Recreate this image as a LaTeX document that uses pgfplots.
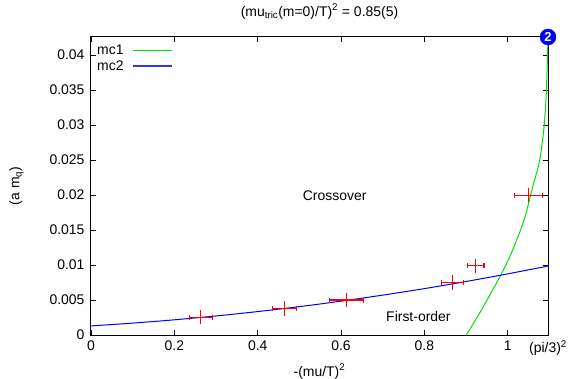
\documentclass[border=0pt]{standalone}
\usepackage{fontspec}
\setmainfont{Liberation Sans}
\usepackage{pgfplots}
\pgfplotsset{compat=1.18}
\definecolor{gpgreen}{RGB}{0,225,0}
\definecolor{gpred}{RGB}{255,0,0}
\newcommand{\fs}{\fontsize{14}{16}\selectfont}
\begin{document}
\begin{tikzpicture}[font=\fs]
\begin{axis}[name=ax, scale only axis, width=457bp, height=298bp,
  xmin=0, xmax=1.0966, ymin=0, ymax=0.0426,
  clip=false,
  scaled y ticks=false, scaled x ticks=false,
  axis line style={line width=1bp},
  tick style={black, line width=0.8bp}, major tick length=5bp,
  tick align=inside,
  xtick={0,0.2,0.4,0.6,0.8,1,1.0966},
  xticklabels={0,0.2,0.4,0.6,0.8,1,(pi/3)\textsuperscript{2}},
  ytick={0,0.005,0.01,0.015,0.02,0.025,0.03,0.035,0.04},
  yticklabels={0,0.005,0.01,0.015,0.02,0.025,0.03,0.035,0.04},
  tick label style={font=\fs},
  xticklabel style={yshift=-2bp},
  yticklabel style={xshift=-3bp},
  xlabel={-(mu/T)\textsuperscript{2}},
  ylabel={(a m\textsubscript{q})},
  title={(mu\textsubscript{tric}(m=0)/T)\textsuperscript{2} = 0.85(5)},
  label style={font=\fs},
  x label style={at={(axis description cs:0.5,0)}, anchor=base, yshift=-41bp},
  y label style={at={(axis description cs:-0.163,0.5)}, anchor=center},
  title style={font=\fs, at={(axis description cs:0.5,1)}, anchor=base, yshift=15bp},
  legend style={draw=none, fill=none, at={(0,1)}, anchor=north west,
    inner xsep=6bp, inner ysep=8bp, row sep=4bp, column sep=9bp,
    nodes={inner sep=0pt}, font=\fs},
  legend cell align=left,
  legend plot pos=right,
  myerrx/.style={draw=gpred, line width=1.2bp, mark=|, mark size=2.5bp, mark options={draw=gpred, line width=1.2bp}, forget plot},
  myerry/.style={draw=gpred, line width=1.2bp, no markers, forget plot},
]
\addlegendimage{legend image code/.code={\draw[gpgreen, line width=1bp] (0bp,0bp) -- (39bp,0bp);}}
\addlegendentry{mc1}
\addlegendimage{legend image code/.code={\draw[blue!80, line width=1.2bp] (0bp,0bp) -- (39bp,0bp);}}
\addlegendentry{mc2}
\addplot[gpgreen, line width=1bp, smooth, tension=0.5, forget plot] coordinates {
 (0.9005,0) (0.94,0.0039) (0.9832,0.00857) (1.01,0.0119) (1.0391,0.01643)
 (1.06,0.0212) (1.0767,0.025) (1.0871,0.02976) (1.0928,0.035) (1.0966,0.0426)};
\addplot[blue, line width=1bp, smooth, forget plot] coordinates {
 (0,0.0013) (0.1,0.0017) (0.2,0.00217) (0.3,0.00272) (0.4,0.00335) (0.5,0.00405)
 (0.6,0.00484) (0.7,0.0057) (0.8,0.00663) (0.9,0.00765) (1.0,0.00874) (1.0966,0.00986)};
% error bars: point (x,y) with x and y errors
\addplot[myerrx] coordinates {(0.2354,0.00253) (0.2906,0.00253)};
\addplot[myerry] coordinates {(0.263,0.00153) (0.263,0.00353)};
\addplot[myerrx] coordinates {(0.4348,0.00381) (0.4924,0.00381)};
\addplot[myerry] coordinates {(0.4636,0.00274) (0.4636,0.00488)};
\addplot[myerrx] coordinates {(0.572,0.0050) (0.654,0.0050)};
\addplot[myerry] coordinates {(0.613,0.00395) (0.613,0.00605)};
\addplot[myerrx] coordinates {(0.8401,0.00753) (0.8929,0.00753)};
\addplot[myerry] coordinates {(0.8665,0.00646) (0.8665,0.0086)};
\addplot[myerrx] coordinates {(0.903,0.0099) (0.943,0.0099)};
\addplot[myerry] coordinates {(0.923,0.0089) (0.923,0.0109)};
\addplot[myerrx] coordinates {(1.017,0.01996) (1.083,0.01996)};
\addplot[myerry] coordinates {(1.050,0.01896) (1.050,0.02096)};
\addplot[only marks, mark=*, mark size=8bp, forget plot,
  mark options={fill=blue, draw=blue},
  nodes near coords={\pgfsetfillcolor{white}\textbf{2}},
  every node near coord/.style={anchor=center, font=\fontsize{13}{13}\selectfont\bfseries}]
  coordinates {(1.0966,0.0426)};
\node[anchor=west] at (axis cs:0.5,0.0199) {Crossover};
\node[anchor=west] at (axis cs:0.7,0.0026) {First-order};
\end{axis}
\pgfresetboundingbox
\path[use as bounding box] ([xshift=-91bp,yshift=-44bp]ax.south west) rectangle ([xshift=21bp,yshift=37bp]ax.north east);
\end{tikzpicture}
\end{document}
